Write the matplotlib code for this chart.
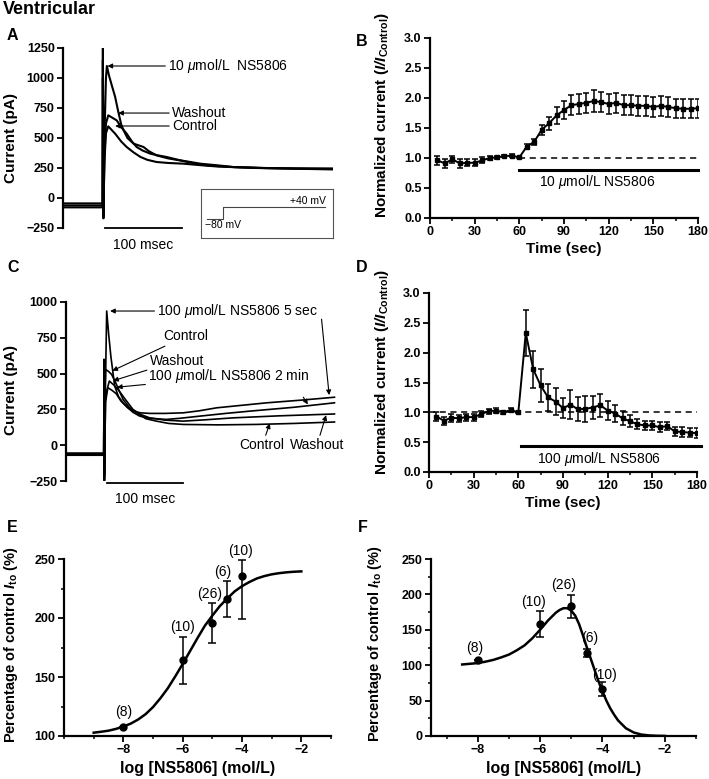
import numpy as np
import matplotlib
matplotlib.use("Agg")
from matplotlib import pyplot as plt
from matplotlib.ticker import MultipleLocator

plt.rcParams['font.family'] = ['Liberation Sans', 'DejaVu Sans']
plt.rcParams['mathtext.fontset'] = 'custom'
plt.rcParams['mathtext.rm'] = 'Liberation Sans'
plt.rcParams['mathtext.it'] = 'Liberation Sans:italic'
plt.rcParams['mathtext.bf'] = 'Liberation Sans:bold'
plt.rcParams['mathtext.bfit'] = 'Liberation Sans:italic:bold'

# ---- panel A: current traces, 10 umol/L NS5806 (ms, pA) ----
a_ns_t = [-52, -0.4, 0, 0.7, 2, 4, 5.2, 8, 12, 16, 20, 24, 27, 32, 40, 46, 53, 60, 70, 85, 100, 118, 136, 170, 210, 250, 300]
a_ns_i = [-45, -45, 1250, -170, 500, 1000, 1100, 1020, 930, 842, 720, 610, 564, 500, 453, 440, 425, 390, 355, 330, 314, 290, 272, 258, 250, 247, 246]
a_wash_t = [-52, -0.4, 0, 0.7, 2, 4, 7, 12, 18, 24, 31, 38, 44, 52, 62, 72, 83, 100, 127, 150, 170, 210, 250, 300]
a_wash_i = [-62, -62, 1150, -140, 350, 620, 689, 670, 647, 590, 536, 470, 425, 395, 369, 355, 342, 315, 286, 272, 258, 250, 245, 242]
a_ctrl_t = [-52, -0.4, 0, 0.7, 2, 4, 7, 11, 16, 24, 31, 40, 49, 58, 70, 85, 105, 130, 150, 200, 250, 300]
a_ctrl_i = [-78, -78, 1000, -120, 300, 540, 597, 570, 536, 470, 425, 380, 342, 318, 300, 292, 286, 272, 262, 250, 244, 238]

# voltage protocol inset (ms, mV)
prot_t = [-20, 0, 0, 128]
prot_v = [-80, -80, 40, 40]

# ---- panel C: current traces, 100 umol/L NS5806 (ms, pA) ----
c_5s_t = [-50, -0.4, 0, 0.5, 1.5, 3.5, 6, 9, 14, 19, 25, 31, 38, 48, 60, 80, 104, 125, 148, 180, 214, 260, 303]
c_5s_i = [-55, -55, 600, -245, 300, 937, 780, 620, 413, 340, 296, 262, 238, 226, 222, 222, 226, 240, 261, 278, 296, 315, 335]
c_2m_t = [-50, -0.4, 0, 0.5, 2, 5, 10, 16, 22, 29, 38, 47, 60, 82, 100, 126, 160, 192, 250, 303]
c_2m_i = [-65, -65, 380, -200, 300, 401, 385, 360, 310, 273, 230, 203, 188, 180, 188, 203, 222, 238, 265, 296]
c_wash_t = [-50, -0.4, 0, 0.5, 2, 7, 13, 20, 28, 38, 48, 60, 80, 104, 135, 170, 230, 303]
c_wash_i = [-70, -70, 460, -220, 350, 448, 420, 378, 320, 250, 215, 191, 175, 168, 178, 191, 205, 218]
c_ctrl_t = [-50, -0.4, 0, 0.5, 1.3, 2, 6, 10, 15, 20, 25, 33, 43, 55, 69, 85, 104, 150, 200, 250, 303]
c_ctrl_i = [-60, -60, 536, -250, 400, 529, 515, 494, 440, 380, 320, 265, 226, 185, 168, 152, 145, 142, 145, 152, 162]

# ---- panels B and D: normalized current time course ----
time_s = [5, 10, 15, 20, 25, 30, 35, 40, 45, 50, 55, 60, 65, 70, 75, 80, 85, 90,
          95, 100, 105, 110, 115, 120, 125, 130, 135, 140, 145, 150, 155, 160, 165, 170, 175, 180]
b_mean = [0.96, 0.91, 0.98, 0.91, 0.92, 0.92, 0.96, 1.00, 1.01, 1.03, 1.04, 1.01, 1.19, 1.27, 1.47, 1.58, 1.71, 1.80,
          1.88, 1.90, 1.92, 1.95, 1.93, 1.90, 1.92, 1.88, 1.88, 1.87, 1.87, 1.85, 1.87, 1.85, 1.83, 1.82, 1.82, 1.83]
b_err = [0.08, 0.07, 0.06, 0.07, 0.06, 0.06, 0.05, 0.03, 0.03, 0.02, 0.02, 0.01, 0.04, 0.05, 0.08, 0.11, 0.14, 0.15,
         0.17, 0.17, 0.17, 0.18, 0.17, 0.17, 0.17, 0.17, 0.17, 0.17, 0.17, 0.17, 0.17, 0.17, 0.16, 0.16, 0.16, 0.16]
d_mean = [0.93, 0.86, 0.91, 0.90, 0.92, 0.92, 0.97, 1.02, 1.03, 1.00, 1.04, 1.00, 2.33, 1.72, 1.45, 1.25, 1.18, 1.07,
          1.13, 1.05, 1.06, 1.08, 1.12, 1.03, 0.98, 0.90, 0.85, 0.80, 0.78, 0.78, 0.75, 0.77, 0.68, 0.67, 0.66, 0.65]
d_err = [0.08, 0.07, 0.07, 0.06, 0.06, 0.06, 0.05, 0.04, 0.04, 0.03, 0.03, 0.01, 0.38, 0.31, 0.28, 0.22, 0.22, 0.17,
         0.24, 0.20, 0.22, 0.20, 0.19, 0.16, 0.15, 0.12, 0.10, 0.08, 0.08, 0.08, 0.08, 0.07, 0.08, 0.08, 0.08, 0.08]

# ---- panels E and F: concentration response ----
log_conc = [-8, -6, -5, -4.5, -4]
n_cells = [8, 10, 26, 6, 10]
e_mean = [108, 164, 196, 216, 236]
e_err_lo = [0, 20, 17, 15, 37]
e_err_hi = [0, 20, 17, 15, 13]
e_fit_x = [-9, -8.75, -8.5, -8.25, -8, -7.75, -7.5, -7.25, -7, -6.75, -6.5, -6.25, -6, -5.75, -5.5,
           -5.25, -5, -4.75, -4.5, -4.25, -4, -3.75, -3.5, -3.25, -3, -2.75, -2.5, -2.25, -2]
e_fit_y = [102.8, 103.6, 104.5, 106, 108, 110.5, 114, 118.5, 124.5, 132, 140.5, 150.5, 161, 172, 183,
           193.5, 202, 210, 216.5, 222.5, 227, 230.5, 233.5, 235.5, 237, 238, 238.7, 239.2, 239.5]

f_mean = [108, 158, 183, 117, 66]
f_err = [0, 18, 16, 6, 10]
f_fit_x = [-8.5, -8.25, -8, -7.75, -7.5, -7.25, -7, -6.75, -6.5, -6.25, -6, -5.75, -5.5, -5.375, -5.25,
           -5.125, -5, -4.875, -4.75, -4.625, -4.5, -4.375, -4.25, -4.125, -4, -3.875, -3.75, -3.625,
           -3.5, -3.25, -3, -2.75, -2.5, -2.25, -2]
f_fit_y = [101, 102, 103, 105, 107.5, 111, 115, 121, 128, 138, 150, 163, 174, 178, 180.5,
           180.5, 177, 170, 158, 142, 125, 109, 93, 77, 63, 50, 39, 30,
           22, 11, 5, 2, 0.8, 0.3, 0.1]

# label centers for the (n) texts
e_lab_pos = [(-8, 120.6), (-6.0, 192.6), (-5.08, 220), (-4.65, 238.7), (-4.05, 256.8)]
f_lab_pos = [(-8.1, 124.7), (-6.22, 189.7), (-5.26, 213), (-4.4, 138), (-3.92, 86)]

W, H = 709, 779
fig = plt.figure(figsize=(W / 100, H / 100), dpi=100)


def px_axes(x0, y_top, x1, y_bot):
    return fig.add_axes([x0 / W, 1 - y_bot / H, (x1 - x0) / W, (y_bot - y_top) / H])


def style(ax, bottom=True):
    for s in ['top', 'right']:
        ax.spines[s].set_visible(False)
    ax.spines['left'].set_linewidth(1.6)
    ax.spines['bottom'].set_linewidth(1.6)
    if not bottom:
        ax.spines['bottom'].set_visible(False)
        ax.set_xticks([])
    ax.tick_params(which='major', direction='out', length=4, width=1.3, labelsize=9, pad=2)
    ax.tick_params(which='minor', direction='out', length=2.5, width=1.1)
    for lab in ax.get_xticklabels() + ax.get_yticklabels():
        lab.set_fontweight('bold')


def ylab(x, y, s, size=11):
    fig.text(x / W, 1 - y / H, s, rotation=90, ha='center', va='center', fontsize=size, fontweight='bold')


arrow = dict(arrowstyle='-|>', color='black', lw=0.8, mutation_scale=7, shrinkA=0, shrinkB=0)
txt = dict(fontsize=10, color='black')

# ---------- A ----------
axA = px_axes(63, 48, 333, 228)
axA.plot(a_ctrl_t, a_ctrl_i, color='black', lw=1.5)
axA.plot(a_wash_t, a_wash_i, color='black', lw=1.5)
axA.plot(a_ns_t, a_ns_i, color='black', lw=1.5)
axA.set_xlim(-52, 300)
axA.set_ylim(-250, 1250)
axA.set_yticks([-250, 0, 250, 500, 750, 1000, 1250])
style(axA, bottom=False)
axA.plot([3, 103], [-250, -250], color='black', lw=1.3, clip_on=False)
axA.text(53, -330, '100 msec', ha='center', va='top', **txt)
axA.annotate('10 $\\mathit{\\mu}$mol/L  NS5806', xy=(6, 1100), xytext=(85, 1100),
             va='center', arrowprops=arrow, **txt)
axA.annotate('Washout', xy=(20, 708), xytext=(90, 708), va='center', arrowprops=arrow, **txt)
axA.annotate('Control', xy=(16, 600), xytext=(90, 600), va='center', arrowprops=arrow, **txt)

ins = px_axes(201, 189, 333, 238)
ins.plot(prot_t, prot_v, color='#444444', lw=0.8)
ins.set_xlim(-27.5, 137.5)
ins.set_ylim(-270, 220)
ins.set_xticks([])
ins.set_yticks([])
for s in ins.spines.values():
    s.set_linewidth(0.8)
    s.set_color('#555555')
ins.text(128, 48, '+40 mV', ha='right', va='bottom', fontsize=7.5)
ins.text(-23, -95, '\u221280 mV', ha='left', va='top', fontsize=7.5)

# ---------- C ----------
axC = px_axes(66, 302, 336, 481)
for t, i in [(c_ctrl_t, c_ctrl_i), (c_wash_t, c_wash_i), (c_2m_t, c_2m_i), (c_5s_t, c_5s_i)]:
    axC.plot(t, i, color='black', lw=1.2)
axC.set_xlim(-50, 305)
axC.set_ylim(-250, 1000)
axC.set_yticks([-250, 0, 250, 500, 750, 1000])
style(axC, bottom=False)
axC.plot([4, 104], [-262, -262], color='black', lw=1.3, clip_on=False)
axC.text(54, -330, '100 msec', ha='center', va='top', **txt)
axC.annotate('100 $\\mathit{\\mu}$mol/L NS5806 5 sec', xy=(8, 937), xytext=(70, 937),
             va='center', arrowprops=arrow, **txt)
axC.annotate('', xy=(296, 350), xytext=(286, 880), arrowprops=arrow)
axC.annotate('Control', xy=(11, 520), xytext=(78, 760), va='center', arrowprops=arrow, **txt)
axC.annotate('Washout', xy=(12, 450), xytext=(60, 590), va='center', arrowprops=arrow, **txt)
axC.annotate('100 $\\mathit{\\mu}$mol/L NS5806 2 min', xy=(17, 405), xytext=(58, 480),
             va='center', arrowprops=arrow, **txt)
axC.annotate('', xy=(268, 285), xytext=(262, 335), arrowprops=arrow)
axC.annotate('Control', xy=(218, 152), xytext=(208, 50), ha='center', va='top', arrowprops=arrow, **txt)
axC.annotate('Washout', xy=(292, 210), xytext=(280, 50), ha='center', va='top', arrowprops=arrow, **txt)

# ---------- B and D ----------
ylab_norm = 'Normalized current ($\\mathbfit{I/I}_{\\mathbf{Control}}$)'
for (top, bot, x0), mean, err, bar_y, bar_x, lab_y, lab, dash_x, yl in [
        ((38, 218, 430), b_mean, b_err, 0.8, (60, 180), 0.6, '10 $\\mathit{\\mu}$mol/L NS5806', (60, 180), 115),
        ((293, 472, 429), d_mean, d_err, 0.43, (62, 183), 0.22, '100 $\\mathit{\\mu}$mol/L NS5806', (0, 180), 372)]:
    ax = px_axes(x0, top, x0 + 268, bot)
    ax.plot(dash_x, [1, 1], color='black', lw=1.1, ls=(0, (4, 3)))
    ax.errorbar(time_s, mean, yerr=err, color='black', lw=1.4, elinewidth=1.1, capsize=2.5,
                capthick=1.1, marker='s', ms=2.5)
    ax.plot(bar_x, [bar_y, bar_y], color='black', lw=2.2, clip_on=False)
    ax.text(np.mean(bar_x) - 8, lab_y, lab, ha='center', va='center', **txt)
    ax.set_xlim(0, 180)
    ax.set_ylim(0, 3)
    ax.set_xticks(range(0, 181, 30))
    ax.xaxis.set_minor_locator(MultipleLocator(15))
    ax.set_yticks(np.arange(0, 3.01, 0.5))
    ax.set_yticklabels(['%.1f' % v for v in np.arange(0, 3.01, 0.5)])
    ax.set_xlabel('Time (sec)', fontsize=11, fontweight='bold', labelpad=3)
    style(ax)
    ylab(382, yl, ylab_norm)

# ---------- E ----------
axE = px_axes(64, 559, 331, 736)
axE.plot(e_fit_x, e_fit_y, color='black', lw=1.8)
axE.errorbar(log_conc, e_mean, yerr=[e_err_lo, e_err_hi], fmt='o', color='black', ms=5,
             elinewidth=1.1, capsize=3, capthick=1.1, clip_on=False)
axE.set_xlim(-10, -1)
axE.set_ylim(100, 250)
axE.set_xticks([-8, -6, -4, -2])
axE.xaxis.set_minor_locator(MultipleLocator(1))
axE.set_yticks([100, 150, 200, 250])
axE.yaxis.set_minor_locator(MultipleLocator(25))
axE.set_xlabel('log [NS5806] (mol/L)', fontsize=11.5, fontweight='bold', labelpad=3)
style(axE)
for n, (x, y) in zip(n_cells, e_lab_pos):
    axE.text(x, y, '(%d)' % n, ha='center', va='center', fontsize=10, clip_on=False)

# ---------- F ----------
axF = px_axes(431, 559, 696, 736)
axF.plot(f_fit_x, f_fit_y, color='black', lw=1.8)
axF.errorbar(log_conc, f_mean, yerr=f_err, fmt='o', color='black', ms=5,
             elinewidth=1.1, capsize=3, capthick=1.1)
axF.set_xlim(-9.5, -1)
axF.set_ylim(0, 250)
axF.set_xticks([-8, -6, -4, -2])
axF.xaxis.set_minor_locator(MultipleLocator(1))
axF.set_yticks([0, 50, 100, 150, 200, 250])
axF.yaxis.set_minor_locator(MultipleLocator(25))
axF.set_xlabel('log [NS5806] (mol/L)', fontsize=11.5, fontweight='bold', labelpad=3)
style(axF)
for n, (x, y) in zip(n_cells, f_lab_pos):
    axF.text(x, y, '(%d)' % n, ha='center', va='center', fontsize=10)

ylab_pct = 'Percentage of control $\\mathbfit{I}_{\\mathbf{to}}$ (%)'
ylab(11, 645, ylab_pct, 10.5)
ylab(375, 644, ylab_pct, 10.5)
ylab(11, 138, 'Current (pA)')
ylab(11, 390, 'Current (pA)')

# title and panel letters
fig.text(3 / W, 1 - 10 / H, 'Ventricular', ha='left', va='center', fontsize=13, fontweight='bold')
for letter, x, y in [('A', 7, 35), ('B', 356, 41), ('C', 7, 267), ('D', 356, 268), ('E', 7, 528), ('F', 358, 528)]:
    fig.text(x / W, 1 - y / H, letter, ha='left', va='center', fontsize=11.5, fontweight='bold')

fig.savefig('out.png', dpi=100)
